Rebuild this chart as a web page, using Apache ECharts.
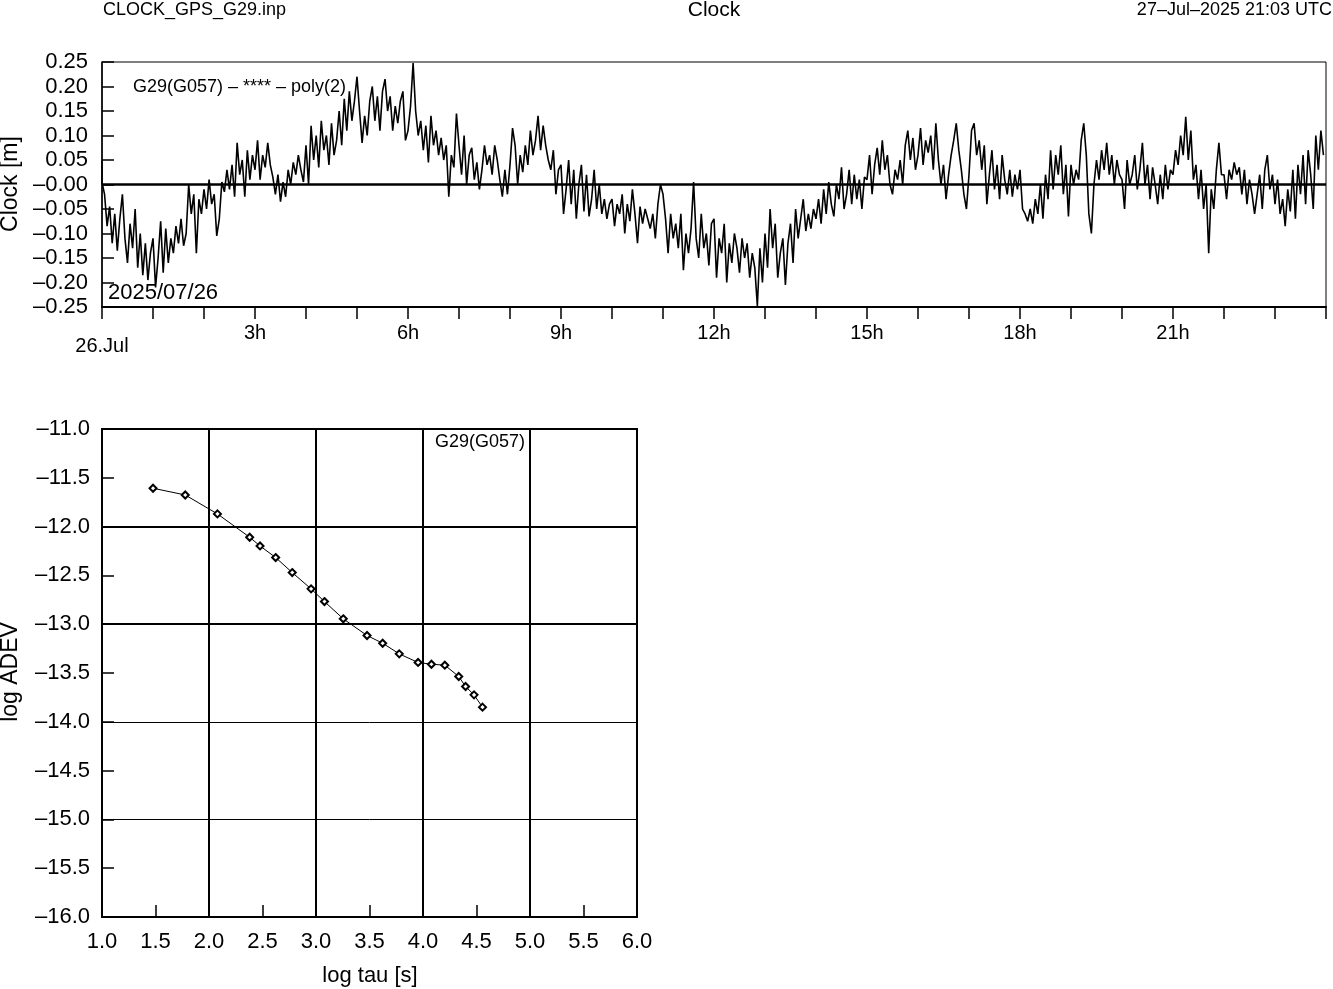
<!DOCTYPE html>
<html>
<head>
<meta charset="utf-8">
<script src="https://cdn.jsdelivr.net/npm/echarts@6/dist/echarts.min.js"></script>
<style>
html,body{margin:0;padding:0;background:#fff;}
#c{width:1333px;height:989px;}
</style>
</head>
<body>
<div id="c"></div>
<script>
// ---- Clock residuals [m], 3-minute samples, one array per hour of 26 Jul 2025 ----
const sampleStepHours = 0.05;
const clockH00 = [0.005,-0.020,-0.085,-0.045,-0.120,-0.060,-0.135,-0.070,-0.020,-0.110,-0.160,-0.080,-0.130,-0.050,-0.170,-0.100,-0.185,-0.120,-0.195,-0.140];
const clockH01 = [-0.110,-0.210,-0.150,-0.075,-0.180,-0.090,-0.160,-0.110,-0.140,-0.085,-0.120,-0.070,-0.125,-0.100,0.000,-0.060,-0.020,-0.140,-0.030,-0.060];
const clockH02 = [-0.010,-0.050,0.010,-0.040,-0.020,-0.105,-0.070,0.005,-0.015,0.030,-0.010,0.040,-0.025,0.085,0.020,0.050,-0.025,0.070,0.010,0.060];
const clockH03 = [0.030,0.090,0.010,0.060,0.035,0.085,0.040,0.015,-0.020,0.020,-0.035,0.005,-0.025,0.030,0.000,0.045,0.020,0.060,0.030,0.005];
const clockH04 = [0.080,0.000,0.120,0.050,0.100,0.035,0.130,0.070,0.100,0.040,0.125,0.060,0.090,0.150,0.080,0.175,0.110,0.190,0.130,0.170];
const clockH05 = [0.220,0.150,0.085,0.140,0.100,0.170,0.200,0.130,0.180,0.110,0.190,0.215,0.150,0.180,0.110,0.160,0.125,0.170,0.190,0.090];
const clockH06 = [0.110,0.160,0.248,0.150,0.100,0.130,0.070,0.120,0.045,0.140,0.080,0.110,0.060,0.095,0.050,0.080,-0.025,0.060,0.035,0.145];
const clockH07 = [0.080,0.020,0.100,0.000,0.060,0.075,0.010,0.045,-0.010,0.030,0.080,0.040,0.060,0.020,0.080,0.050,0.010,-0.025,0.030,-0.020];
const clockH08 = [0.040,0.115,0.080,0.000,0.060,0.025,0.080,0.040,0.110,0.060,0.090,0.140,0.070,0.120,0.080,0.050,0.030,0.070,-0.020,0.030];
const clockH09 = [0.040,-0.060,-0.010,0.050,-0.040,0.030,-0.070,0.000,0.040,-0.055,0.020,-0.065,-0.030,0.030,-0.050,0.000,-0.060,-0.030,-0.070,-0.040];
const clockH10 = [-0.030,-0.085,-0.040,-0.060,-0.020,-0.100,-0.040,-0.075,-0.010,-0.060,-0.120,-0.045,-0.080,-0.050,-0.070,-0.090,-0.060,-0.110,-0.040,0.000];
const clockH11 = [-0.020,-0.070,-0.140,-0.060,-0.110,-0.080,-0.130,-0.060,-0.175,-0.100,-0.140,-0.090,0.005,-0.110,-0.150,-0.060,-0.130,-0.100,-0.165,-0.080];
const clockH12 = [-0.070,-0.190,-0.110,-0.140,-0.080,-0.200,-0.120,-0.160,-0.100,-0.130,-0.180,-0.110,-0.150,-0.120,-0.190,-0.140,-0.170,-0.248,-0.130,-0.200];
const clockH13 = [-0.100,-0.170,-0.050,-0.130,-0.080,-0.190,-0.140,-0.110,-0.205,-0.120,-0.080,-0.160,-0.050,-0.110,-0.070,-0.030,-0.095,-0.060,-0.090,-0.050];
const clockH14 = [-0.070,-0.030,-0.080,-0.010,-0.060,0.005,-0.040,-0.065,0.000,-0.030,0.035,-0.050,-0.020,0.030,-0.040,0.020,-0.030,0.010,-0.050,0.015];
const clockH15 = [0.010,0.060,-0.020,0.040,0.075,0.020,0.090,0.030,0.060,0.000,-0.020,0.030,0.010,0.050,0.000,0.080,0.110,0.050,0.095,0.030];
const clockH16 = [0.060,0.115,0.040,0.090,0.065,0.100,0.030,0.125,0.050,0.000,0.040,-0.030,0.020,0.060,0.090,0.125,0.070,0.030,-0.020,-0.050];
const clockH17 = [0.020,0.110,0.125,0.060,0.090,0.030,0.080,-0.040,0.020,0.070,-0.010,0.040,-0.030,0.060,0.010,-0.020,0.030,-0.025,0.020,-0.010];
const clockH18 = [0.030,-0.050,-0.060,-0.075,-0.050,-0.080,-0.030,-0.060,0.000,-0.070,0.020,-0.030,0.070,-0.010,0.060,0.020,0.080,-0.020,0.040,-0.065];
const clockH19 = [0.040,0.000,0.030,0.010,0.090,0.125,0.060,-0.060,-0.100,0.000,0.050,0.010,0.070,0.030,0.085,0.020,0.060,0.000,0.050,0.020];
const clockH20 = [0.010,-0.050,0.050,0.000,0.020,0.060,-0.010,0.030,0.085,0.000,0.040,-0.030,0.035,0.000,-0.040,0.020,-0.030,0.040,-0.010,0.030];
const clockH21 = [0.020,0.070,0.040,0.100,0.060,0.138,0.050,0.110,0.010,0.040,-0.030,0.030,-0.050,0.000,-0.140,-0.010,-0.050,0.030,0.085,0.020];
const clockH22 = [0.020,-0.030,0.030,0.010,0.045,0.020,0.035,-0.020,0.030,-0.040,0.010,-0.020,-0.060,-0.020,0.020,-0.050,0.030,0.060,-0.010,0.020];
const clockH23 = [-0.040,0.010,-0.060,-0.030,-0.085,-0.010,-0.055,0.030,-0.070,0.040,-0.020,0.060,-0.040,0.070,0.020,-0.050,0.100,0.030,0.110,0.060];

// ---- Allan deviation ----
const adevLogTau = [1.477,1.778,2.079,2.380,2.477,2.623,2.778,2.954,3.079,3.255,3.477,3.623,3.778,3.954,4.079,4.204,4.334,4.398,4.477,4.556];
const adevLog = [-11.607,-11.676,-11.870,-12.109,-12.198,-12.317,-12.471,-12.638,-12.768,-12.945,-13.116,-13.195,-13.304,-13.392,-13.410,-13.420,-13.536,-13.638,-13.724,-13.850];

// ---- labels ----
const hourTickLabels = {3:'3h',6:'6h',9:'9h',12:'12h',15:'15h',18:'18h',21:'21h'};
const dayLabel = '26.Jul';
const headerLeft = 'CLOCK_GPS_G29.inp';
const headerTitle = 'Clock';
const headerRight = '27\u2013Jul\u20132025 21:03 UTC';
const clockLegend = 'G29(G057) \u2013 **** \u2013 poly(2)';
const dateStamp = '2025/07/26';
const adevLegend = 'G29(G057)';
const adevMajorGrid = [{v:-12,w:2},{v:-13,w:2},{v:-14,w:1},{v:-15,w:1}];

const clockValues = [].concat(clockH00,clockH01,clockH02,clockH03,clockH04,clockH05,clockH06,clockH07,clockH08,clockH09,clockH10,clockH11,clockH12,clockH13,clockH14,clockH15,clockH16,clockH17,clockH18,clockH19,clockH20,clockH21,clockH22,clockH23);
const clockData = clockValues.map((v,i)=>[i*sampleStepHours, v]);
const adevData = adevLogTau.map((t,i)=>[t, adevLog[i]]);

const FF = '"Liberation Sans", Arial, Helvetica, sans-serif';
const minus = s => s.replace('-', '\u2013');

const chart = echarts.init(document.getElementById('c'), null, {renderer:'canvas'});
chart.setOption({
  animation: false,
  backgroundColor: '#fff',
  grid: [
    {left:102, top:62, width:1224, height:245, show:true, borderColor:'#000', borderWidth:1, backgroundColor:'#fff', containLabel:false},
    {left:102, top:429, width:535, height:488, show:true, borderColor:'#000', borderWidth:2, backgroundColor:'#fff', containLabel:false}
  ],
  xAxis: [
    {gridIndex:0, type:'value', min:0, max:24, interval:1,
     axisLine:{show:true, onZero:false, lineStyle:{color:'#000', width:2}},
     axisTick:{show:true, inside:false, length:12, lineStyle:{color:'#000', width:1.5}},
     splitLine:{show:false},
     axisLabel:{show:true, margin:16, color:'#000', fontFamily:FF, fontSize:20,
       formatter: v => (v===0 ? '{d|'+dayLabel+'}' : (hourTickLabels[v] || '')),
       rich:{d:{fontFamily:FF, fontSize:20, color:'#000', padding:[13,0,0,0]}}}},
    {gridIndex:0, type:'value', min:0, max:24, interval:24,
     axisLine:{show:false}, splitLine:{show:false}, axisLabel:{show:false},
     axisTick:{show:true, length:24, customValues:[0], lineStyle:{color:'#000', width:1.5}}},
    {gridIndex:1, type:'value', min:1, max:6, interval:0.5,
     axisLine:{show:true, onZero:false, lineStyle:{color:'#000', width:2}},
     axisTick:{show:true, inside:true, length:12, lineStyle:{color:'#000', width:1.5}},
     splitLine:{show:false},
     axisLabel:{show:true, margin:14, color:'#000', fontFamily:FF, fontSize:22, formatter: v => v.toFixed(1)}},
    {gridIndex:1, type:'value', min:1, max:6, interval:1,
     axisLine:{show:false}, axisTick:{show:false}, axisLabel:{show:false},
     splitLine:{show:true, lineStyle:{color:'#000', width:2}}}
  ],
  yAxis: [
    {gridIndex:0, type:'value', min:-0.25, max:0.25, interval:0.05,
     axisLine:{show:true, onZero:false, lineStyle:{color:'#000', width:1.5}},
     axisTick:{show:true, inside:true, length:12, lineStyle:{color:'#000', width:1.5}},
     splitLine:{show:false},
     axisLabel:{show:true, margin:14, color:'#000', fontFamily:FF, fontSize:22,
       formatter: v => Math.abs(v)<1e-9 ? '\u20130.00' : minus(v.toFixed(2))}},
    {gridIndex:1, type:'value', min:-16, max:-11, interval:0.5,
     axisLine:{show:true, onZero:false, lineStyle:{color:'#000', width:2}},
     axisTick:{show:true, inside:true, length:12, lineStyle:{color:'#000', width:1.5}},
     splitLine:{show:false},
     axisLabel:{show:true, margin:12, color:'#000', fontFamily:FF, fontSize:22,
       formatter: v => minus(v.toFixed(1))}}
  ],
  series: [
    {type:'line', xAxisIndex:0, yAxisIndex:0, data:clockData, symbol:'none', silent:true,
     lineStyle:{color:'#000', width:1.6}, z:3,
     markLine:{silent:true, symbol:['none','none'], label:{show:false},
       lineStyle:{color:'#000', width:2.5, type:'solid'}, data:[{yAxis:0}]}},
    {type:'line', xAxisIndex:2, yAxisIndex:1, data:[], symbol:'none', silent:true, z:1,
     markLine:{silent:true, symbol:['none','none'], label:{show:false}, animation:false,
       data: adevMajorGrid.map(g=>({yAxis:g.v, lineStyle:{color:'#000', width:g.w, type:'solid'}}))}},
    {type:'line', xAxisIndex:2, yAxisIndex:1, data:adevData, symbol:'emptyDiamond', symbolSize:7,
     showAllSymbol:true, silent:true, z:4,
     lineStyle:{color:'#000', width:1},
     itemStyle:{color:'#000', borderColor:'#000', borderWidth:1.4}}
  ],
  graphic: [
    {type:'text', x:103, y:10, style:{text:headerLeft, font:'18px '+FF, fill:'#000', textAlign:'left', textVerticalAlign:'middle'}},
    {type:'text', x:714, y:10, style:{text:headerTitle, font:'21px '+FF, fill:'#000', textAlign:'center', textVerticalAlign:'middle'}},
    {type:'text', x:1332, y:10, style:{text:headerRight, font:'18px '+FF, fill:'#000', textAlign:'right', textVerticalAlign:'middle'}},
    {type:'text', x:133, y:87, z:10, style:{text:clockLegend, font:'18px '+FF, fill:'#000', textAlign:'left', textVerticalAlign:'middle'}},
    {type:'text', x:108, y:293, z:10, style:{text:dateStamp, font:'22px '+FF, fill:'#000', textAlign:'left', textVerticalAlign:'middle'}},
    {type:'text', x:11, y:184, rotation:Math.PI/2, style:{text:'Clock [m]', font:'23px '+FF, fill:'#000', textAlign:'center', textVerticalAlign:'middle'}},
    {type:'text', x:435, y:442, z:10, style:{text:adevLegend, font:'18px '+FF, fill:'#000', textAlign:'left', textVerticalAlign:'middle'}},
    {type:'text', x:370, y:976, style:{text:'log tau [s]', font:'22px '+FF, fill:'#000', textAlign:'center', textVerticalAlign:'middle'}},
    {type:'text', x:11, y:672, rotation:Math.PI/2, style:{text:'log ADEV', font:'23px '+FF, fill:'#000', textAlign:'center', textVerticalAlign:'middle'}}
  ]
});
</script>
</body>
</html>
